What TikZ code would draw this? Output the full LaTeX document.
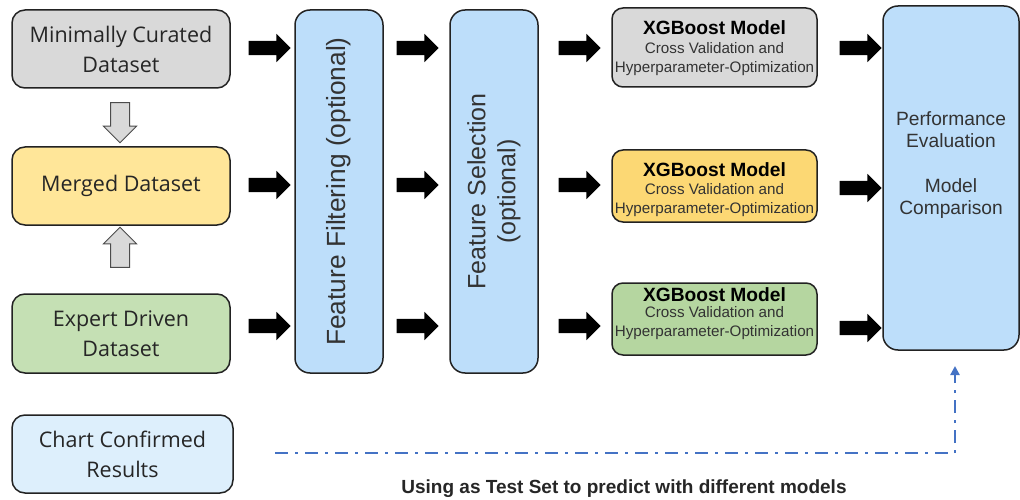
\documentclass[tikz,border=0pt]{standalone}
\usepackage{fontspec}
\setmainfont{Liberation Sans}
\newfontfamily\dsfont{Open Sans}
\usetikzlibrary{shapes.arrows,arrows.meta}
\definecolor{gfill}{HTML}{D9D9D9}
\definecolor{yfill}{HTML}{FFE699}
\definecolor{yfilld}{HTML}{FCD874}
\definecolor{grfill}{HTML}{C5E0B4}
\definecolor{grfilld}{HTML}{B5D6A0}
\definecolor{bfill}{HTML}{BDDEFA}
\definecolor{bfilll}{HTML}{DDEFFC}
\definecolor{edge}{HTML}{222222}
\definecolor{dashblue}{HTML}{4472C4}
\begin{document}
\begin{tikzpicture}[x=1pt,y=-1pt,
  dsbox/.style={draw=edge, line width=1.5pt, rounded corners=13pt, inner sep=0pt,
     align=center, font=\dsfont\fontsize{21.5}{30}\selectfont, text=black!85},
  tallbox/.style={draw=edge, line width=1.5pt, rounded corners=15pt, inner sep=0pt, fill=bfill},
  xgbox/.style={draw=edge, line width=1.5pt, rounded corners=11pt, inner sep=0pt,
     minimum width=205pt},
  blk/.style={single arrow, fill=black, draw=none, minimum height=42pt,
     single arrow head extend=7pt, inner sep=0pt, single arrow tip angle=90},
  gry/.style={single arrow, fill=gfill, draw=black!70, line width=1pt, minimum height=40pt,
     single arrow head extend=7pt, inner sep=0pt, single arrow tip angle=90},
  xgt/.style={font=\bfseries\fontsize{19.2}{21}\selectfont},
  xgs/.style={font=\fontsize{15.2}{19}\selectfont, text=black!80, align=center}
]
\useasboundingbox (0,0) rectangle (1020,500);

% dataset boxes
\node[dsbox, fill=gfill, minimum width=218pt, minimum height=78pt] (mc) at (121,49) {Minimally Curated\\Dataset};
\node[dsbox, fill=yfill, minimum width=218pt, minimum height=78pt] (md) at (121,186) {Merged Dataset};
\node[dsbox, fill=grfill, minimum width=218pt, minimum height=79pt] (ed) at (121,333.5) {Expert Driven\\Dataset};
\node[dsbox, fill=bfilll, minimum width=221pt, minimum height=78pt] (cc) at (122.5,454) {Chart Confirmed\\Results};

% gray arrows
\node[gry, rotate=-90] (ga1) at (120,118) {\rule{0pt}{18pt}};
\node[gry, rotate=90] (ga2) at (120,252) {\rule{0pt}{18pt}};

% tall boxes
\node[tallbox, minimum width=88pt, minimum height=363pt] (ff) at (339,191.5) {};
\node[rotate=90, font=\fontsize{26.3}{29}\selectfont, text=black!80] (fft) at (ff.center) {Feature Filtering (optional)};
\node[tallbox, minimum width=88pt, minimum height=363pt] (fs) at (494,191.5) {};
\node[rotate=90, align=center, font=\fontsize{25}{30}\selectfont, text=black!80] (fst) at (fs.center) {Feature Selection\\(optional)};

% XGBoost boxes
\node[xgbox, fill=gfill, minimum height=79pt] (x1) at (714.5,47.5) {};
\node[xgbox, fill=yfilld, minimum height=72pt] (x2) at (714.5,186) {};
\node[xgbox, fill=grfilld, minimum height=72pt] (x3) at (714.5,319) {};
\node[xgt] (x1t) at (714.5,28) {XGBoost Model};
\node[xgs] (x1s) at (714.5,59) {Cross Validation and\\Hyperparameter-Optimization};
\node[xgt] (x2t) at (714.5,170) {XGBoost Model};
\node[xgs] (x2s) at (714.5,200) {Cross Validation and\\Hyperparameter-Optimization};
\node[xgt] (x3t) at (714.5,295) {XGBoost Model};
\node[xgs] (x3s) at (714.5,323.5) {Cross Validation and\\Hyperparameter-Optimization};

% performance box
\node[tallbox, minimum width=136pt, minimum height=344pt] (pe) at (951,178) {};
\node[align=center, font=\fontsize{19.2}{22.5}\selectfont, text=black!80] (pet) at (951,165)
  {Performance\\Evaluation\\[22pt]Model\\Comparison};

% black arrows
\node[blk] (a11) at (266,48) {\rule{0pt}{14pt}};
\node[blk] (a12) at (266,185) {\rule{0pt}{14pt}};
\node[blk] (a13) at (266,326) {\rule{0pt}{14pt}};
\node[blk] (a21) at (414,48) {\rule{0pt}{14pt}};
\node[blk] (a22) at (414,185) {\rule{0pt}{14pt}};
\node[blk] (a23) at (414,326) {\rule{0pt}{14pt}};
\node[blk] (a31) at (576,48) {\rule{0pt}{14pt}};
\node[blk] (a32) at (576,185) {\rule{0pt}{14pt}};
\node[blk] (a33) at (576,326) {\rule{0pt}{14pt}};
\node[blk] (a41) at (857,48) {\rule{0pt}{14pt}};
\node[blk] (a42) at (857,188) {\rule{0pt}{14pt}};
\node[blk] (a43) at (857,328) {\rule{0pt}{14pt}};

% dash-dot test set line
\coordinate (ds) at (275,453);
\coordinate (dc) at (955,453);
\coordinate (de) at (955,366);
\draw[dashblue, line width=2.6pt, dash pattern=on 13pt off 7pt on 3pt off 7pt,
      -{Triangle[length=9pt,width=9pt]}] (ds) -- (dc) -- (de);

\node[font=\bfseries\fontsize{19}{22}\selectfont, text=black!85] (cap) at (624,489)
  {Using as Test Set to predict with different models};
\end{tikzpicture}
\end{document}
